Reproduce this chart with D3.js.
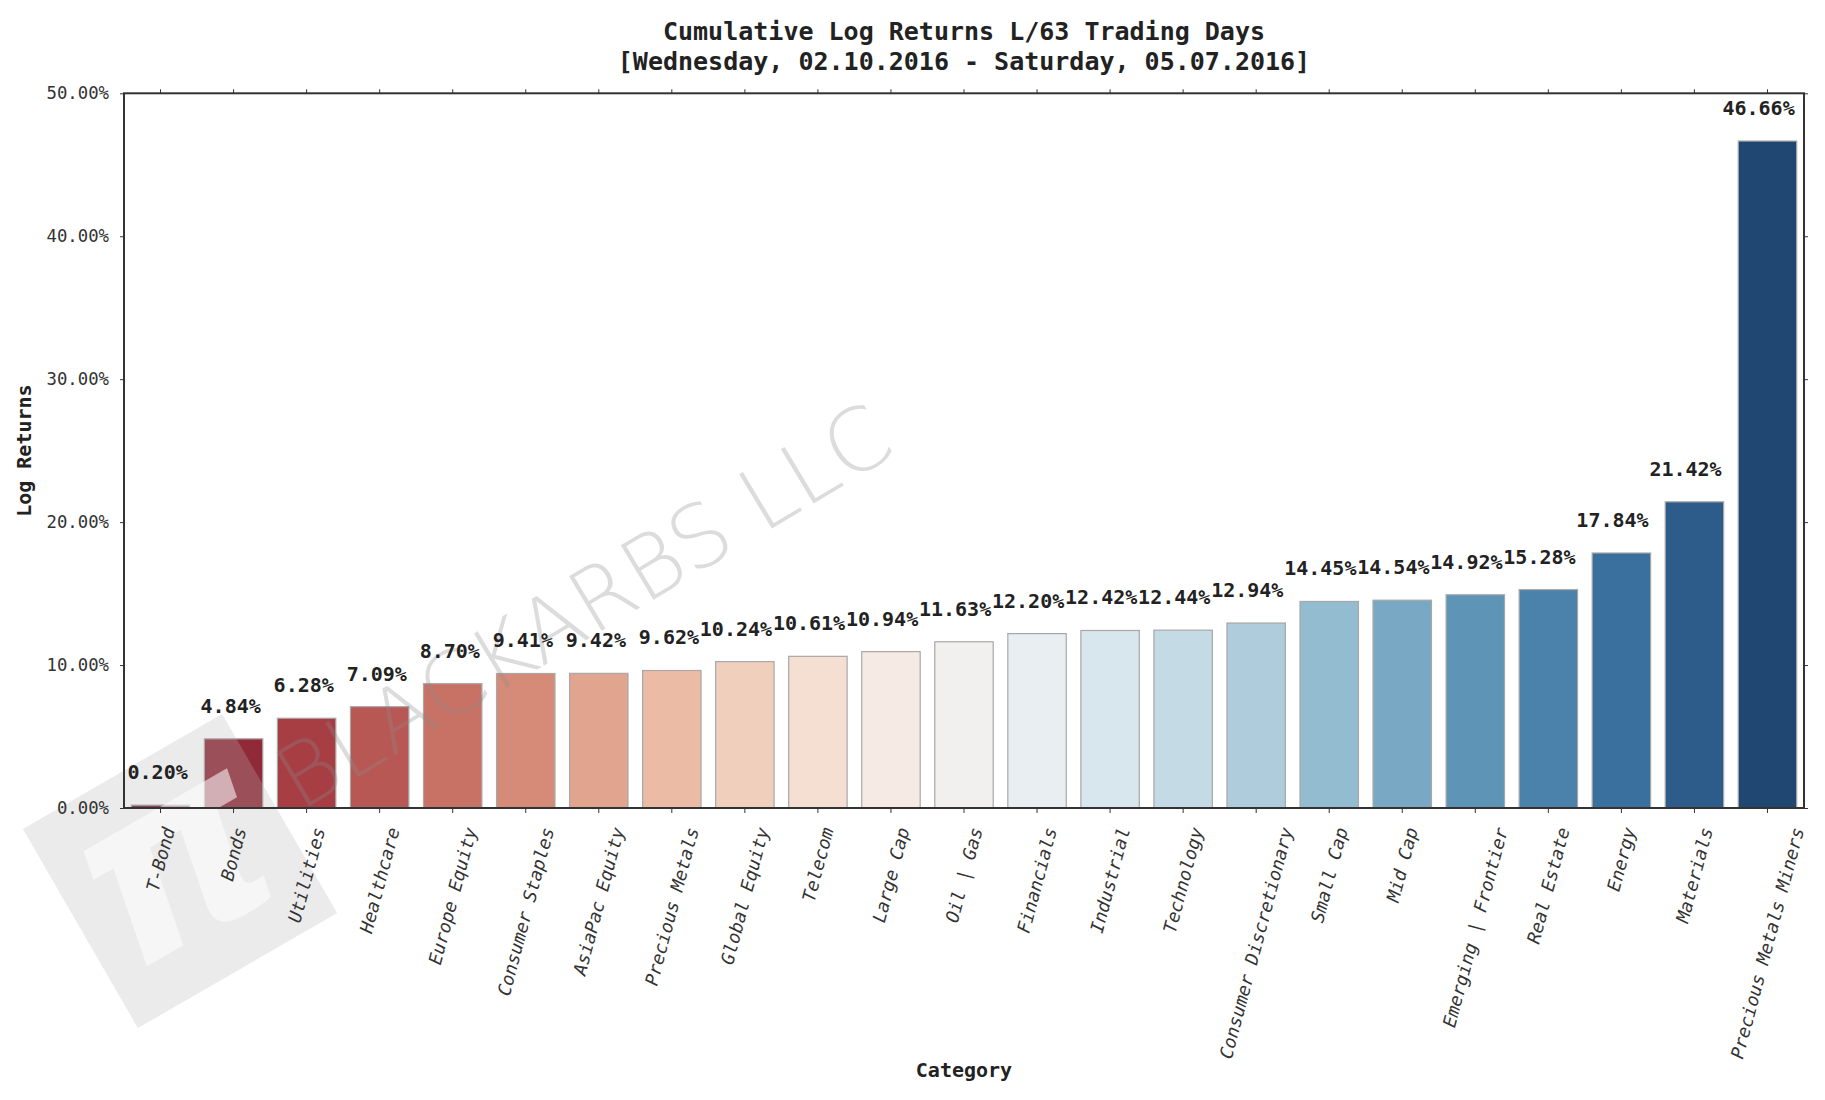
<!DOCTYPE html>
<html>
<head>
<meta charset="utf-8">
<script src="https://cdn.jsdelivr.net/npm/d3@7"></script>
<style>
  html, body { margin: 0; padding: 0; background: #fff; }
  svg { display: block; }
</style>
</head>
<body>
<svg id="chart" width="1825" height="1100"></svg>
<script>
// ---- data ----
const categories = ["T-Bond","Bonds","Utilities","Healthcare","Europe Equity","Consumer Staples","AsiaPac Equity","Precious Metals","Global Equity","Telecom","Large Cap","Oil | Gas","Financials","Industrial","Technology","Consumer Discretionary","Small Cap","Mid Cap","Emerging | Frontier","Real Estate","Energy","Materials","Precious Metals Miners"];
const values = [0.20,4.84,6.28,7.09,8.70,9.41,9.42,9.62,10.24,10.61,10.94,11.63,12.20,12.42,12.44,12.94,14.45,14.54,14.92,15.28,17.84,21.42,46.66];
const yTicks = [0,10,20,30,40,50];
const yTickLabels = ["0.00%","10.00%","20.00%","30.00%","40.00%","50.00%"];
const titleLines = ["Cumulative Log Returns L/63 Trading Days","[Wednesday, 02.10.2016 - Saturday, 05.07.2016]"];
const xTitle = "Category";
const yTitle = "Log Returns";
const watermark = "BLACKARBS LLC";

// ---- layout ----
const W = 1825, H = 1100;
const plot = {left: 124, right: 1804, top: 93.3, bottom: 808};
const mono = "'DejaVu Sans Mono', 'Liberation Mono', monospace";
const svg = d3.select("#chart");

const x = d3.scaleBand().domain(categories).range([plot.left, plot.right])
  .paddingInner(0.2).paddingOuter(0.1);
const y = d3.scaleLinear().domain([0, 50]).range([plot.bottom, plot.top]);

const n = categories.length;
const color = i => {
  const c = d3.hsl(d3.interpolateRdBu((i + 1) / (n + 1)));
  c.s *= 0.75;
  return c.formatHex();
};

// bars
svg.append("g").selectAll("rect").data(categories).join("rect")
  .attr("x", d => x(d))
  .attr("y", (d, i) => y(values[i]))
  .attr("width", x.bandwidth())
  .attr("height", (d, i) => y(0) - y(values[i]))
  .attr("fill", (d, i) => color(i))
  .attr("stroke", "#a8a8a8")
  .attr("stroke-width", 1.2);

// watermark text
svg.append("text")
  .attr("transform", "translate(300,812) rotate(-31)")
  .attr("font-family", "'DejaVu Sans', sans-serif")
  .attr("font-weight", 200)
  .attr("font-size", 87)
  .attr("fill", "#8a8a8a")
  .attr("fill-opacity", 0.3)
  .text(watermark);

// pi logo
const logo = svg.append("g").attr("transform", "translate(180,871) rotate(-30)");
logo.append("rect").attr("x", -115).attr("y", -115).attr("width", 230).attr("height", 230)
  .attr("fill", "#b4b4b4").attr("fill-opacity", 0.27);
logo.append("text").attr("x", -2).attr("y", 66)
  .attr("text-anchor", "middle")
  .attr("font-family", "'DejaVu Sans', sans-serif")
  .attr("font-style", "italic")
  .attr("font-weight", "bold")
  .attr("font-size", 240)
  .attr("fill", "#ffffff").attr("fill-opacity", 0.55)
  .text("π");

// bar value labels
svg.append("g").selectAll("text").data(categories).join("text")
  .attr("x", d => x(d) + x.bandwidth() - 2)
  .attr("y", (d, i) => y(values[i]) - 26)
  .attr("text-anchor", "end")
  .attr("font-family", mono)
  .attr("font-weight", "bold")
  .attr("font-size", 20)
  .attr("fill", "#222")
  .text((d, i) => values[i].toFixed(2) + "%");

// axes
const axisColor = "#333";
const gy = svg.append("g").attr("transform", `translate(${plot.left},0)`)
  .call(d3.axisLeft(y).tickValues(yTicks).tickFormat((d, i) => yTickLabels[i]).tickSize(4).tickPadding(11));
gy.selectAll("text").attr("font-family", mono).attr("font-size", 17.3).attr("fill", "#333");
const gr = svg.append("g").attr("transform", `translate(${plot.right},0)`)
  .call(d3.axisRight(y).tickValues(yTicks).tickFormat("").tickSize(4));
const gb = svg.append("g").attr("transform", `translate(0,${plot.bottom})`)
  .call(d3.axisBottom(x).tickFormat("").tickSize(5));
const gt = svg.append("g").attr("transform", `translate(0,${plot.top})`)
  .call(d3.axisTop(x).tickFormat("").tickSize(4));
[gy, gr, gb, gt].forEach(g => {
  g.select(".domain").remove();
  g.selectAll("line").attr("stroke", axisColor).attr("stroke-width", 1);
});
// frame
svg.append("rect").attr("x", plot.left).attr("y", plot.top)
  .attr("width", plot.right - plot.left).attr("height", plot.bottom - plot.top)
  .attr("fill", "none").attr("stroke", axisColor).attr("stroke-width", 2);

// x tick labels (rotated 75°, bbox centred on tick)
const ang = 75, rad = ang * Math.PI / 180;
const xl = svg.append("g").selectAll("text").data(categories).join("text")
  .attr("text-anchor", "end")
  .attr("dy", "0.35em")
  .attr("font-family", mono)
  .attr("font-style", "oblique")
  .attr("font-size", 18)
  .attr("fill", "#333")
  .text(d => d);
xl.each(function(d) {
  const L = this.getComputedTextLength();
  const cx = x(d) + x.bandwidth() / 2 + L * Math.cos(rad) / 2;
  d3.select(this).attr("transform", `translate(${cx},${plot.bottom + 20}) rotate(${-ang})`);
});

// titles
const t = svg.append("text").attr("text-anchor", "middle")
  .attr("font-family", mono).attr("font-weight", "bold").attr("font-size", 25).attr("fill", "#222");
titleLines.forEach((s, i) => t.append("tspan").attr("x", (plot.left + plot.right) / 2).attr("y", 40 + i * 30).text(s));

svg.append("text").attr("x", (plot.left + plot.right) / 2).attr("y", 1077)
  .attr("text-anchor", "middle").attr("font-family", mono).attr("font-weight", "bold")
  .attr("font-size", 20).attr("fill", "#222").text(xTitle);

svg.append("text").attr("transform", `translate(31,${(plot.top + plot.bottom) / 2}) rotate(-90)`)
  .attr("text-anchor", "middle").attr("font-family", mono).attr("font-weight", "bold")
  .attr("font-size", 20).attr("fill", "#222").text(yTitle);
</script>
</body>
</html>
